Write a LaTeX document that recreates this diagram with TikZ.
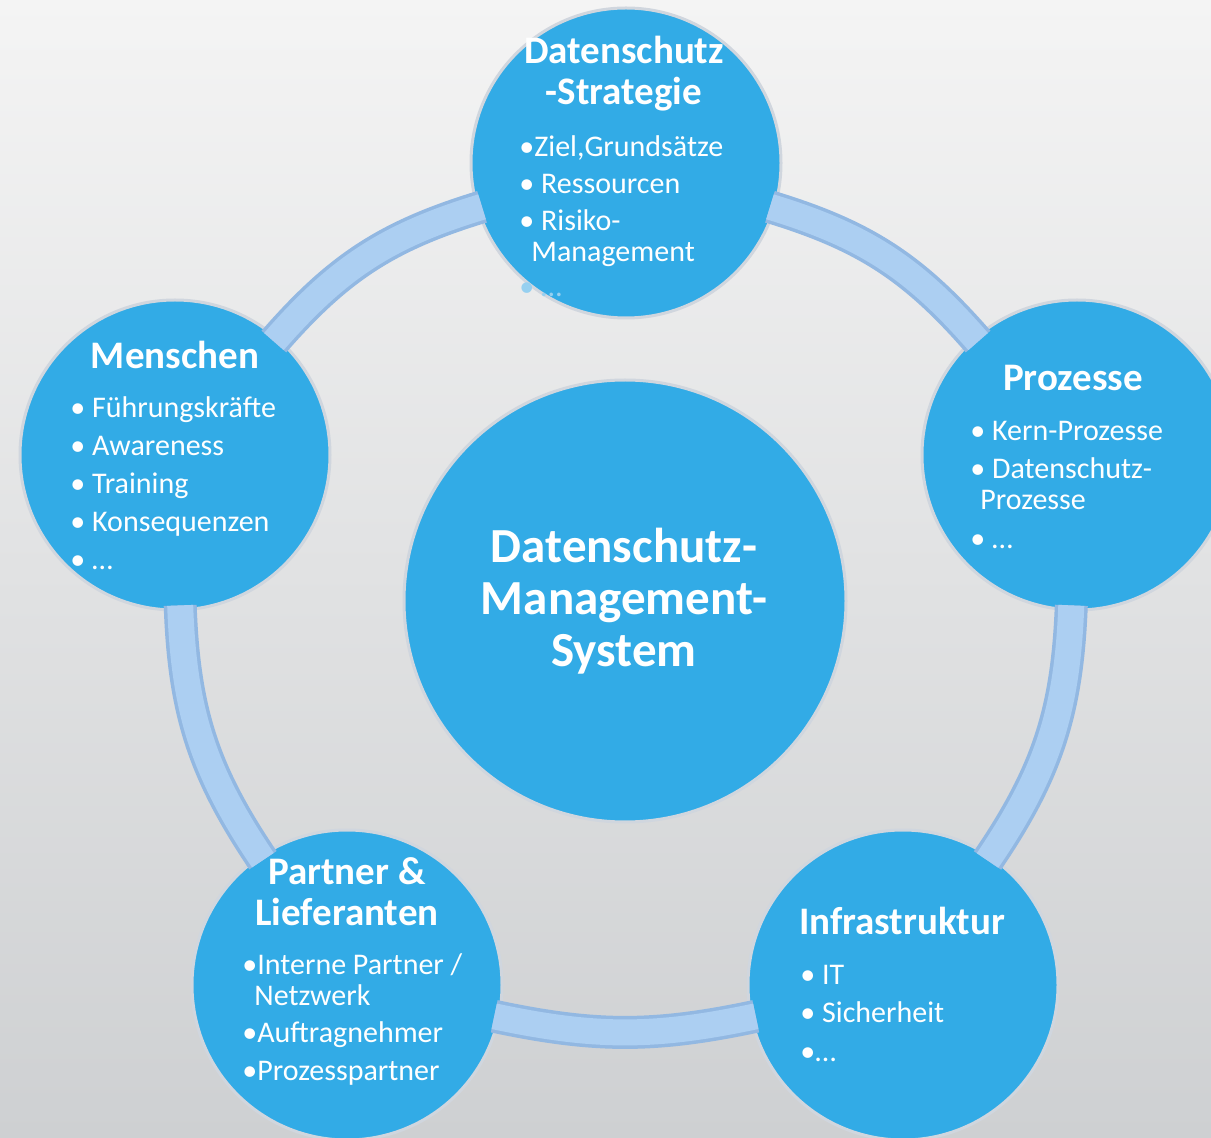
\documentclass[tikz,border=0pt]{standalone}
\usepackage{fontspec}
\setmainfont{Carlito}
\definecolor{dsBlue}{RGB}{50,171,230}
\definecolor{dsRim}{RGB}{208,214,222}
\definecolor{ringFill}{RGB}{172,207,242}
\definecolor{ringEdge}{RGB}{146,184,226}
\definecolor{bgTop}{RGB}{244,244,244}
\definecolor{bgBot}{RGB}{206,208,210}
\definecolor{fade}{RGB}{150,208,240}

\begin{document}
\begin{tikzpicture}[x=0.5pt,y=0.5pt]
    \tikzset{bubble/.style = {shape=circle,fill=dsBlue,draw=dsRim,line width=1.5pt,minimum size=155pt,inner sep=0pt}}
    \tikzset{big/.style = {bubble,minimum size=221pt}}
    \tikzset{head/.style = {text=white,font=\fontsize{19.5}{20.5}\selectfont\bfseries,align=center}}
    \tikzset{items/.style = {text=white,font=\fontsize{15}{15.5}\selectfont,align=left,anchor=north west,inner sep=0pt}}
    \tikzset{ring/.style = {line width=16.5pt,draw=ringEdge,shorten <=-3pt,shorten >=-3pt,postaction={draw=ringFill,line width=13pt}}}
    % background
    \useasboundingbox (0,0) rectangle (1211,1137);
    \shade[top color=bgTop,bottom color=bgBot] (0,0) rectangle (1211,1137);
    % vertices
    \node[big] (0) at (625,536) {};
    \node[bubble] (1) at (626,974) {};
    \node[bubble] (2) at (175,682) {};
    \node[bubble] (3) at (347,152) {};
    \node[bubble] (4) at (903,152) {};
    \node[bubble] (5) at (1077,682) {};
    % ring
    \draw[ring] (1) to[bend right=16] (2);
    \draw[ring] (2) to[bend right=16] (3);
    \draw[ring] (3) to[bend right=12] (4);
    \draw[ring] (4) to[bend right=16] (5);
    \draw[ring] (5) to[bend right=16] (1);
    % texts
    \node[head,font=\fontsize{24.5}{26}\selectfont\bfseries] (0h) at (624,536) {Datenschutz-\\Management-\\System};
    \node[head] (1h) at (624,1063) {Datenschutz\\-Strategie};
    \node[items] (1b) at (519,1002) {•Ziel,Grundsätze\\[3pt]• Ressourcen\\[3pt]• Risiko-\\\hspace*{6pt}Management\\[2pt]\textcolor{fade}{• …}};
    \node[head] (2h) at (175,782) {Menschen};
    \node[items] (2b) at (70,741) {• Führungskräfte\\[3.5pt]• Awareness\\[3.5pt]• Training\\[3.5pt]• Konsequenzen\\[3.5pt]• …};
    \node[head] (3h) at (347,245) {Partner \&\\Lieferanten};
    \node[items] (3b) at (242,184) {•Interne Partner /\\\hspace*{6pt}Netzwerk\\[3pt]•Auftragnehmer\\[3.5pt]•Prozesspartner};
    \node[head] (4h) at (902,216) {Infrastruktur};
    \node[items] (4b) at (800,172) {• IT\\[3.5pt]• Sicherheit\\[4pt]•…};
    \node[head] (5h) at (1073,759) {Prozesse};
    \node[items] (5b) at (970,716) {• Kern-Prozesse\\[3.5pt]• Datenschutz-\\\hspace*{5pt}Prozesse\\[4pt]• …};
\end{tikzpicture}
\end{document}
